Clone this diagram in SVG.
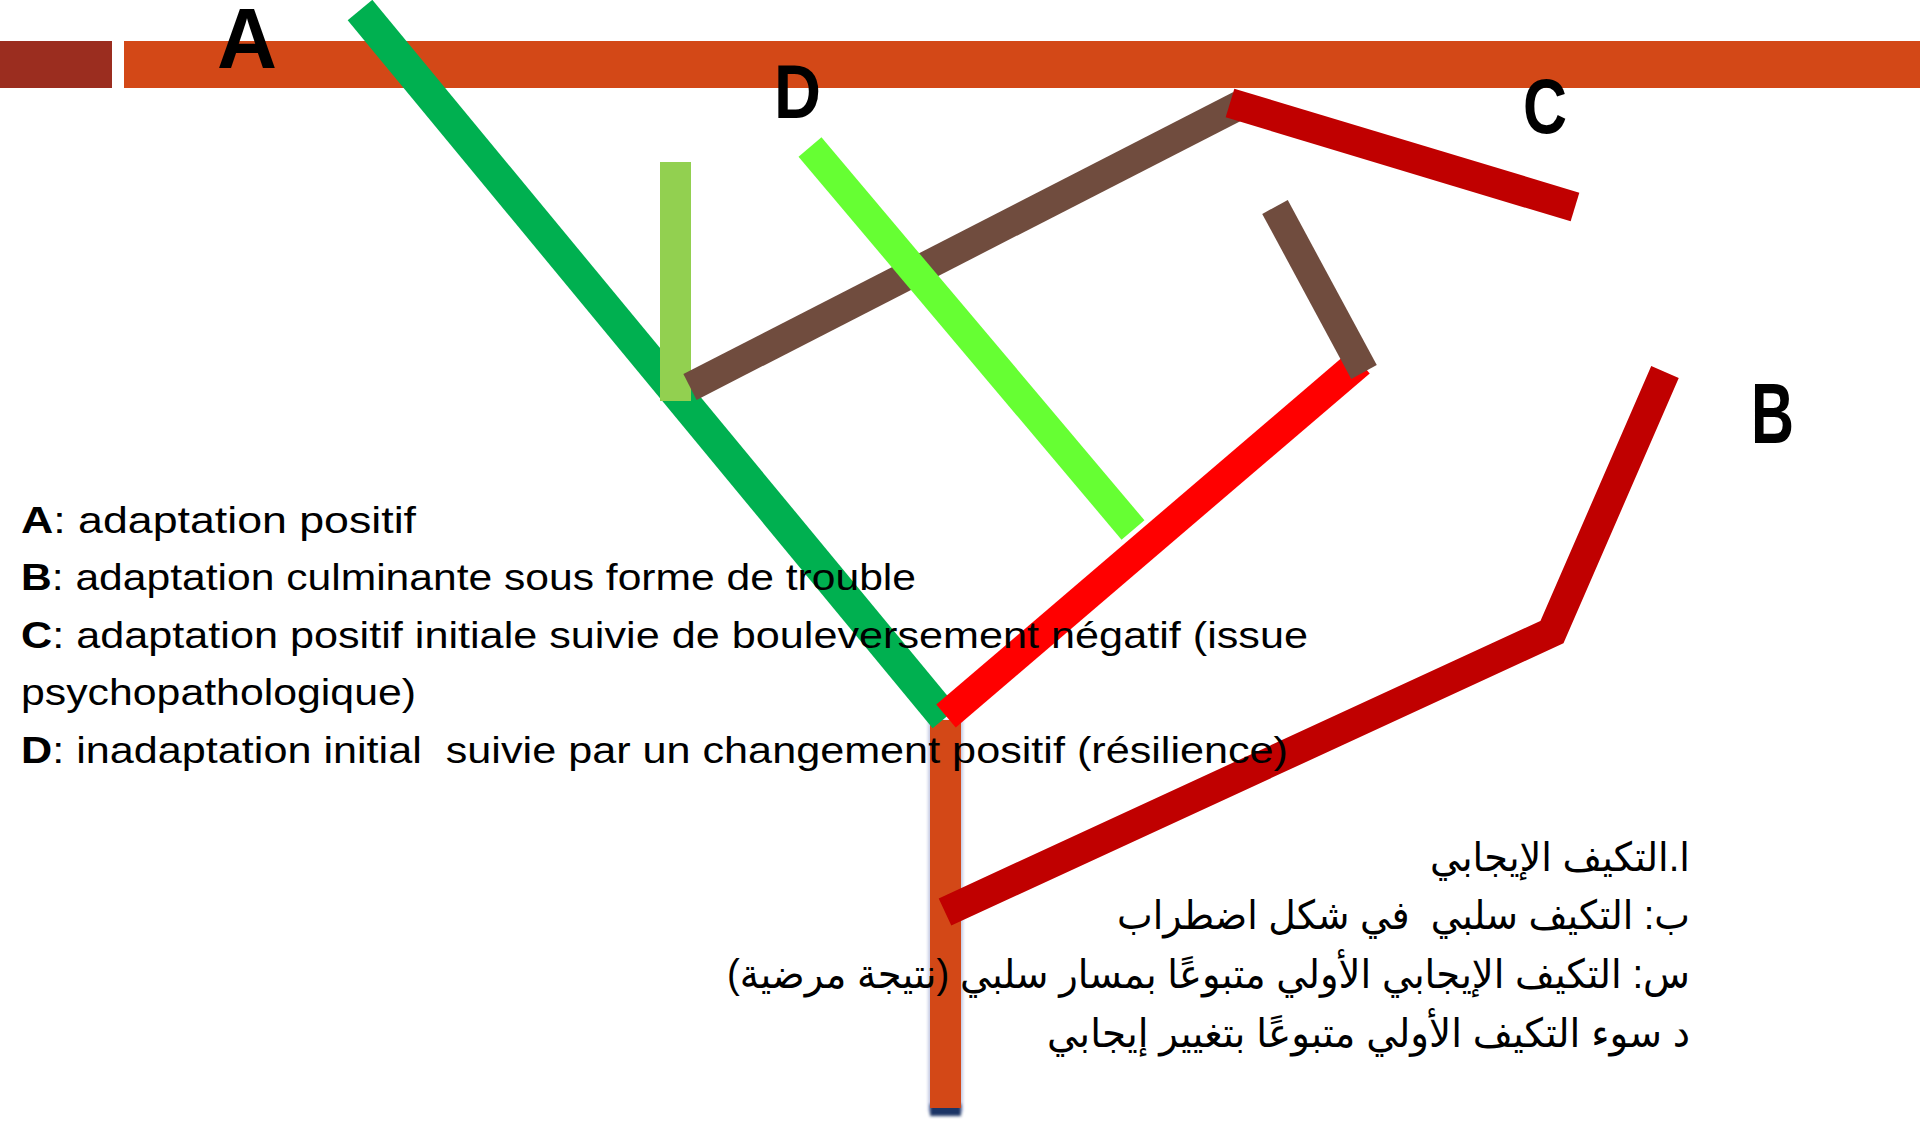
<svg xmlns="http://www.w3.org/2000/svg" width="1920" height="1123" viewBox="0 0 1920 1123">
<defs>
<style>
.ln{fill:none;stroke-linecap:butt;stroke-linejoin:miter}
.leg{font-family:"Liberation Sans",Arial,sans-serif;font-size:37px;fill:#000}
.ar{font-family:"Liberation Sans","DejaVu Sans",sans-serif;font-size:40px;fill:#000}
.big{font-family:"Liberation Sans",Arial,sans-serif;font-weight:bold;fill:#000}
</style>
<filter id="soft" x="-50%" y="-50%" width="200%" height="200%"><feGaussianBlur stdDeviation="1.6"/></filter>
</defs>
<rect width="1920" height="1123" fill="#fff"/>
<g id="header">
<rect x="0" y="41" width="112" height="47" fill="#9B2D1F"/>
<rect x="124" y="41" width="1796" height="47" fill="#D34817"/>
</g>
<g id="connectors">
<g id="trunk">
<rect x="928" y="720" width="35" height="392" fill="#8C96C8" opacity="0.5" filter="url(#soft)"/>
<rect x="930" y="1104" width="31" height="12" fill="#1F3566" filter="url(#soft)"/>
<rect x="930" y="720" width="31" height="388" fill="#D34817"/>
</g>
<line id="lineA" class="ln" x1="360" y1="10" x2="945" y2="718" stroke="#00B050" stroke-width="32"/>
<rect id="lineD1" x="660" y="162" width="31" height="239" fill="#92D050"/>
<line id="lineBrown1" class="ln" x1="690" y1="387" x2="1240" y2="105" stroke="#704C3E" stroke-width="29"/>
<line id="lineD2" class="ln" x1="810" y1="147" x2="1133" y2="530" stroke="#66FF33" stroke-width="30"/>
<line id="lineRed" class="ln" x1="946" y1="716" x2="1360" y2="362" stroke="#FF0000" stroke-width="30"/>
<line id="lineBrown2" class="ln" x1="1275" y1="207" x2="1364" y2="372" stroke="#704C3E" stroke-width="29"/>
<line id="lineC" class="ln" x1="1230" y1="103" x2="1575" y2="207" stroke="#C00000" stroke-width="30"/>
<polyline id="lineB" class="ln" points="945,912 1552,632 1665,372" stroke="#C00000" stroke-width="30"/>
</g>
<g id="labels">
<text id="labelA" class="big" x="217" y="68" font-size="86" textLength="60" lengthAdjust="spacingAndGlyphs">A</text>
<text id="labelD" class="big" x="774" y="118" font-size="76" textLength="47" lengthAdjust="spacingAndGlyphs">D</text>
<text id="labelC" class="big" x="1523" y="133" font-size="78" textLength="44" lengthAdjust="spacingAndGlyphs">C</text>
<text id="labelB" class="big" x="1751" y="443" font-size="86" textLength="43" lengthAdjust="spacingAndGlyphs">B</text>
</g>
<g id="legend-fr">
<text class="leg" x="21" y="533" textLength="395" lengthAdjust="spacingAndGlyphs"><tspan font-weight="bold">A</tspan>: adaptation positif</text>
<text class="leg" x="21" y="590" textLength="895" lengthAdjust="spacingAndGlyphs"><tspan font-weight="bold">B</tspan>: adaptation culminante sous forme de trouble</text>
<text class="leg" x="21" y="648" textLength="1287" lengthAdjust="spacingAndGlyphs"><tspan font-weight="bold">C</tspan>: adaptation positif initiale suivie de bouleversement négatif (issue</text>
<text class="leg" x="21" y="705" textLength="395" lengthAdjust="spacingAndGlyphs">psychopathologique)</text>
<text class="leg" x="21" y="763" textLength="1267" lengthAdjust="spacingAndGlyphs" xml:space="preserve"><tspan font-weight="bold">D</tspan>: inadaptation initial  suivie par un changement positif (résilience)</text>
</g>
<g id="legend-ar">
<text class="ar" x="1690" y="871" direction="rtl" text-anchor="start" textLength="260" lengthAdjust="spacingAndGlyphs">ا.التكيف الإيجابي</text>
<text class="ar" x="1690" y="929" direction="rtl" text-anchor="start" textLength="573" lengthAdjust="spacingAndGlyphs" xml:space="preserve">ب: التكيف سلبي  في شكل اضطراب</text>
<text class="ar" x="1690" y="988" direction="rtl" text-anchor="start" textLength="963" lengthAdjust="spacingAndGlyphs">س: التكيف الإيجابي الأولي متبوعًا بمسار سلبي (نتيجة مرضية)</text>
<text class="ar" x="1690" y="1047" direction="rtl" text-anchor="start" textLength="643" lengthAdjust="spacingAndGlyphs">د سوء التكيف الأولي متبوعًا بتغيير إيجابي</text>
</g>
</svg>
